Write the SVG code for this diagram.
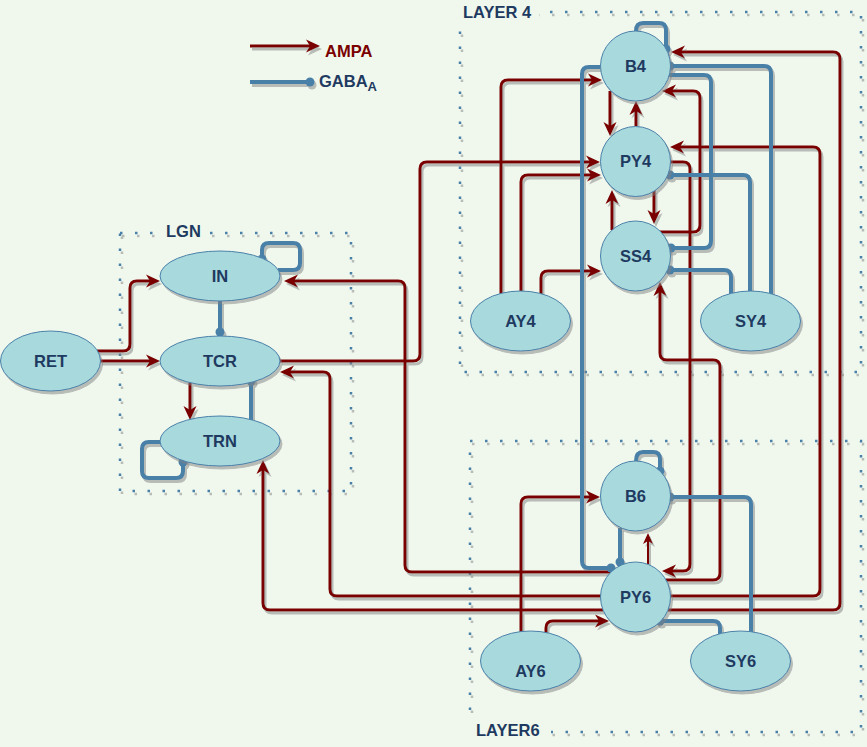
<svg xmlns="http://www.w3.org/2000/svg" width="867" height="747" viewBox="0 0 867 747">
<defs>
<style>
.a{fill:none;stroke:#7a0000;stroke-width:3;marker-end:url(#arr)}
.as{fill:none;stroke:#7a0000;stroke-width:2;marker-end:url(#arrs)}
.g{fill:none;stroke:#4a80a8;stroke-width:4;marker-end:url(#dot)}
.n{fill:#a8d9dd;stroke:#4a80a8;stroke-width:1}
.t{font-family:"Liberation Sans",Arial,Helvetica,sans-serif;font-weight:bold;font-size:16.5px;fill:#1f3a60;text-anchor:middle}
.l{font-family:"Liberation Sans",Arial,Helvetica,sans-serif;font-weight:bold;font-size:16.5px;fill:#1f3a60}
.box{fill:none;stroke:#4a80a8;stroke-width:2.5;stroke-dasharray:2.5 12.5}
.bg{fill:#f0f8ee}
</style>
<filter id="sh" filterUnits="userSpaceOnUse" x="0" y="0" width="867" height="747">
<feOffset in="SourceAlpha" dx="2" dy="3" result="o"/>
<feFlood flood-color="#808080" flood-opacity="0.5"/>
<feComposite in2="o" operator="in" result="s"/>
<feMerge><feMergeNode in="s"/><feMergeNode in="SourceGraphic"/></feMerge>
</filter>
<marker id="arr" markerUnits="userSpaceOnUse" markerWidth="20" markerHeight="20" refX="0" refY="0" orient="auto" style="overflow:visible"><path d="M8,0 L-6,-6.5 L-2,0 L-6,6.5 Z" fill="#7a0000"/></marker>
<marker id="arrs" markerUnits="userSpaceOnUse" markerWidth="20" markerHeight="20" refX="0" refY="0" orient="auto" style="overflow:visible"><path d="M6,0 L-5,-5 L-2,0 L-5,5 Z" fill="#7a0000"/></marker>
<marker id="dot" markerUnits="userSpaceOnUse" markerWidth="12" markerHeight="12" refX="0" refY="0" orient="auto" style="overflow:visible"><circle r="4.5" fill="#4a80a8"/></marker>
</defs>
<rect width="867" height="747" fill="#f0f8ee"/>

<g id="groups" filter="url(#sh)">
<rect class="box" x="120" y="233" width="231" height="258"/>
<rect class="box" x="460" y="12" width="401" height="360"/>
<rect class="box" x="470" y="441" width="391" height="291"/>
</g>

<g id="legend">
<g filter="url(#sh)">
<path class="a" d="M250,46 H312"/>
<path class="g" d="M250,82 H310"/>
</g>
<text class="l" x="325" y="57" style="fill:#7a0000">AMPA</text>
<text class="l" x="319" y="86.5">GABA<tspan font-size="13" dy="4">A</tspan></text>
</g>

<g id="connectors" filter="url(#sh)">
<path class="a" d="M97,351 H123 Q130,351 130,344 V288 Q130,281 137,281 H152"/>
<path class="a" d="M100,361 H152"/>
<path class="a" d="M190,383 V412"/>
<path class="a" d="M611,572 H412 Q405,572 405,565 V288 Q405,281 398,281 H292"/>
<path class="a" d="M601,596 H337 Q330,596 330,589 V379 Q330,372 323,372 H288"/>
<path class="a" d="M603,610 H270 Q263,610 263,603 V468"/>
<path class="a" d="M280,361 H413 Q420,361 420,354 V169 Q420,162 427,162 H592"/>
<path class="a" d="M501,294 V87 Q501,80 508,80 H594"/>
<path class="a" d="M521,292 V182 Q521,175 528,175 H593"/>
<path class="a" d="M541,294 V278 Q541,271 548,271 H593"/>
<path class="a" d="M610,91 V128"/>
<path class="a" d="M636,126 V109"/>
<path class="a" d="M654,190 V216"/>
<path class="a" d="M612,230 V198"/>
<path class="a" d="M660,232 H693 Q700,232 700,225 V98 Q700,91 693,91 H670"/>
<path class="a" d="M668,610 H833 Q840,610 840,603 V59 Q840,52 833,52 H679"/>
<path class="a" d="M670,596 H813 Q820,596 820,589 V154 Q820,147 813,147 H678"/>
<path class="a" d="M670,162 H683 Q690,162 690,169 V564 Q690,571 683,571 H670"/>
<path class="a" d="M666,580 H713 Q720,580 720,573 V367 Q720,360 713,360 H667 Q660,360 660,353 V290"/>
<path class="as" d="M648,564 V539"/>
<path class="a" d="M546,633 V628 Q546,621 553,621 H601"/>
<path class="a" d="M521,632 V504 Q521,497 528,497 H592"/>
<path class="g" d="M220,301 V332"/>
<path class="g" d="M251,420 V381"/>
<path class="g" d="M161,442 H149 Q142,442 142,449 V471 Q142,478 149,478 H176 Q183,478 183,471 V462"/>
<path class="g" d="M278,270 H293 Q300,270 300,263 V250 Q300,243 293,243 H269 Q262,243 262,250 V259"/>
<path class="g" d="M636,31 Q636,23 643,23 H659 Q666,23 666,30 V49"/>
<path class="g" d="M600,67 H589 Q582,67 582,74 V561 Q582,568 589,568 H611"/>
<path class="g" d="M620,528 V562"/>
<path class="g" d="M668,75 H704 Q711,75 711,82 V241 Q711,248 704,248 H671"/>
<path class="g" d="M771,294 V73 Q771,66 764,66 H670"/>
<path class="g" d="M750,292 V182 Q750,175 743,175 H670"/>
<path class="g" d="M731,294 V277 Q731,270 724,270 H670"/>
<path class="g" d="M636,461 Q636,452 643,452 H653 Q660,452 660,459 V471"/>
<path class="g" d="M751,632 V504 Q751,497 744,497 H670"/>
<path class="g" d="M720,634 V628 Q720,621 713,621 H660"/>
</g>

<g id="node-RET"><ellipse class="n" filter="url(#sh)" cx="50.5" cy="361" rx="50" ry="30"/><text class="t" x="50.5" y="367">RET</text></g>
<g id="node-IN"><ellipse class="n" filter="url(#sh)" cx="220" cy="276" rx="60" ry="25"/><text class="t" x="220" y="282">IN</text></g>
<g id="node-TCR"><ellipse class="n" filter="url(#sh)" cx="220" cy="361" rx="60" ry="25"/><text class="t" x="220" y="367">TCR</text></g>
<g id="node-TRN"><ellipse class="n" filter="url(#sh)" cx="220" cy="441" rx="60" ry="25"/><text class="t" x="220" y="447">TRN</text></g>
<g id="node-B4"><circle class="n" filter="url(#sh)" cx="635.5" cy="66" r="35"/><text class="t" x="635.5" y="72">B4</text></g>
<g id="node-PY4"><circle class="n" filter="url(#sh)" cx="635.5" cy="161.5" r="35"/><text class="t" x="635.5" y="167">PY4</text></g>
<g id="node-SS4"><circle class="n" filter="url(#sh)" cx="635.5" cy="256" r="35"/><text class="t" x="635.5" y="262">SS4</text></g>
<g id="node-AY4"><ellipse class="n" filter="url(#sh)" cx="520.5" cy="321" rx="50" ry="30"/><text class="t" x="520.5" y="327">AY4</text></g>
<g id="node-SY4"><ellipse class="n" filter="url(#sh)" cx="750.5" cy="321" rx="50" ry="30"/><text class="t" x="750.5" y="327">SY4</text></g>
<g id="node-B6"><circle class="n" filter="url(#sh)" cx="635.5" cy="496" r="35"/><text class="t" x="635.5" y="502">B6</text></g>
<g id="node-PY6"><circle class="n" filter="url(#sh)" cx="635.5" cy="597" r="35"/><text class="t" x="635.5" y="603">PY6</text></g>
<g id="node-AY6"><ellipse class="n" filter="url(#sh)" cx="530.5" cy="661" rx="50" ry="30"/><text class="t" x="530.5" y="677">AY6</text></g>
<g id="node-SY6"><ellipse class="n" filter="url(#sh)" cx="740.5" cy="661" rx="50" ry="30"/><text class="t" x="740.5" y="667">SY6</text></g>

<g id="labels">
<rect class="bg" x="160" y="222" width="50" height="20"/>
<text class="l" x="166" y="236.5">LGN</text>
<rect class="bg" x="457" y="2" width="82" height="20"/>
<text class="l" x="463" y="18">LAYER 4</text>
<rect class="bg" x="467" y="718" width="84" height="27"/>
<text class="l" x="476" y="736">LAYER6</text>
</g>
</svg>
